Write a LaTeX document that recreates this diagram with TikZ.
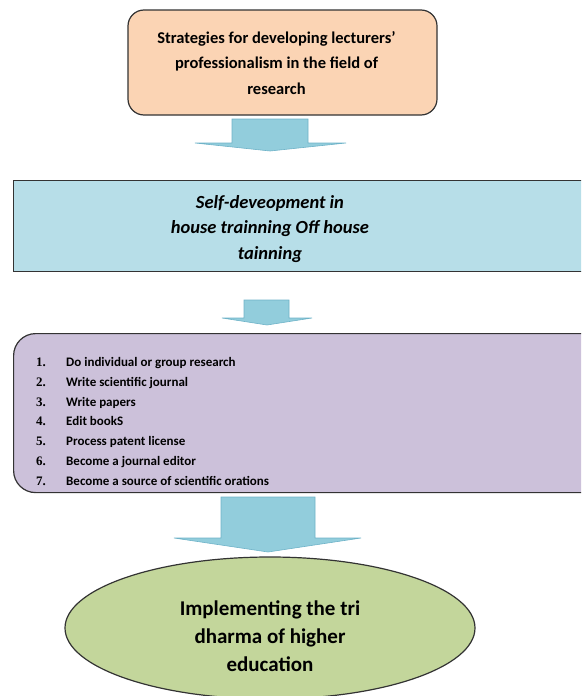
\documentclass[tikz,border=0pt]{standalone}
\usepackage{fontspec}
\setmainfont{Carlito}
\newfontfamily\numfont{Liberation Serif}
\usetikzlibrary{shapes.geometric}
\definecolor{peach}{HTML}{FBD4B4}
\definecolor{lblue}{HTML}{B7DEE8}
\definecolor{lpurple}{HTML}{CCC1DA}
\definecolor{lgreen}{HTML}{C3D69B}
\definecolor{arrowfill}{HTML}{92CDDC}
\definecolor{arrowedge}{HTML}{6FB3C8}
\definecolor{edge}{HTML}{333333}
\tikzset{
  boxline/.style={draw=edge, line width=1.2pt},
  blockarrow/.style={fill=arrowfill, draw=arrowedge, line width=0.6pt, line join=miter},
}
\begin{document}
\begin{tikzpicture}[x=1pt,y=-1pt]
\useasboundingbox (0,0) rectangle (581,696);
\clip (0,0) rectangle (581,696);
% top box
\node[boxline, fill=peach, rounded corners=16pt, minimum width=309pt, minimum height=105pt, inner sep=0pt] (top) at (282.5,62.5) {};
\node[font=\bfseries\fontsize{16.5}{25.5}\selectfont, align=center, inner sep=0pt] (toptext) at (276.5,63) {Strategies for developing lecturers’\\ professionalism in the field of\\ research};
% arrow 1
\draw[blockarrow] (232,119) -- (308,119) -- (308,143) -- (346,143) -- (270,151) -- (195,143) -- (232,143) -- cycle;
% middle box
\node[boxline, fill=lblue, minimum width=600pt, minimum height=91pt, inner sep=0pt, anchor=north west] (mid) at (13,180) {};
\node[font=\bfseries\itshape\fontsize{18.5}{25.5}\selectfont, align=center, inner sep=0pt] (midtext) at (270,229) {Self-deveopment in\\ house trainning Off house\\ tainning};
% arrow 2
\draw[blockarrow] (244,300) -- (289,300) -- (289,318) -- (312,318) -- (267,325) -- (222,318) -- (244,318) -- cycle;
% list box
\node[boxline, fill=lpurple, rounded corners=22pt, minimum width=600pt, minimum height=159pt, inner sep=0pt, anchor=north west] (list) at (13,333) {};
\foreach \t [count=\i] in {Do individual or group research, Write scientific journal, Write papers, Edit bookS, Process patent license, Become a journal editor, Become a source of scientific orations} {
  \node[anchor=base west, inner sep=0pt, font=\numfont\bfseries\fontsize{13}{15}\selectfont] (num\i) at (36,{366.5+19.8*(\i-1)}) {\i.};
  \node[anchor=base west, inner sep=0pt, font=\bfseries\fontsize{13}{15}\selectfont] (item\i) at (66,{366.5+19.8*(\i-1)}) {\t};
}
% arrow 3
\draw[blockarrow] (221,497) -- (315,497) -- (315,538) -- (361,538) -- (268,552) -- (174,538) -- (221,538) -- cycle;
% ellipse
\node[ellipse, boxline, fill=lgreen, minimum width=410pt, minimum height=142pt, inner sep=0pt] (goal) at (270,628) {};
\node[font=\bfseries\fontsize{21}{28}\selectfont, align=center, inner sep=0pt] (goaltext) at (270,636) {Implementing the tri\\ dharma of higher\\ education};
\end{tikzpicture}
\end{document}
